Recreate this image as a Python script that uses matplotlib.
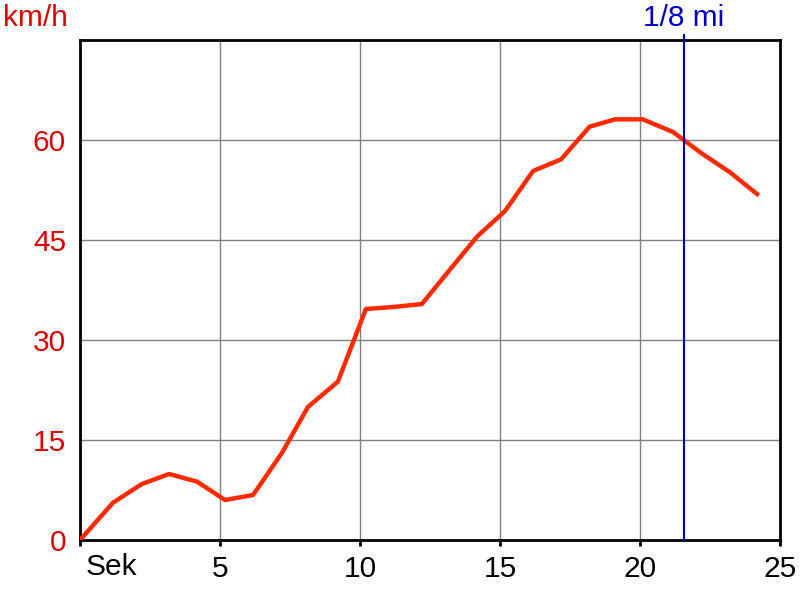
import matplotlib.pyplot as plt

plt.rcParams["font.family"] = ["Liberation Sans", "DejaVu Sans"]

# speed over time
sek = [0, 1.18, 2.21, 3.18, 4.18, 5.18, 6.18, 7.21, 8.14, 9.21, 10.21, 11.18,
       12.21, 13.2, 14.2, 15.18, 16.18, 17.18, 18.2, 19.1, 20.1, 21.18, 22.2,
       23.2, 24.18]
kmh = [0, 5.6, 8.4, 9.9, 8.75, 6.0, 6.75, 13.05, 19.95, 23.75, 34.65, 34.95,
       35.4, 40.5, 45.6, 49.35, 55.35, 57.1, 62.0, 63.1, 63.1, 61.2, 58.0,
       55.2, 51.9]
x_ticks = [0, 5, 10, 15, 20, 25]
y_ticks = [0, 15, 30, 45, 60]
eighth_mile = 21.57

fig = plt.figure(figsize=(8, 6), dpi=100)
ax = fig.add_axes([0.1, 0.1, 0.875, 0.8333])

ax.plot(sek, kmh, color="#ff2a00", lw=3.2, solid_joinstyle="round", zorder=3)
ax.axvline(eighth_mile, ymin=0, ymax=1.01, color="#0000c8", lw=1.5,
           clip_on=False, zorder=4)
ax.text(eighth_mile, 78.3, "1/8 mi", color="#0000c8", fontsize=21.5,
        ha="center", va="center")

ax.set_xlim(0, 25)
ax.set_ylim(0, 75)
ax.set_xticks(x_ticks)
ax.set_xticklabels([""] + [str(t) for t in x_ticks[1:]], fontsize=21.5)
ax.set_yticks(y_ticks)
ax.set_yticklabels([str(t) for t in y_ticks], fontsize=21.5, color="#e00000")
ax.tick_params(axis="x", length=4, width=2, direction="out", pad=7)
ax.tick_params(axis="y", length=0, pad=10)
ax.grid(True, color="#808080", lw=1)
for s in ax.spines.values():
    s.set_linewidth(2)
    s.set_color("black")

ax.text(0.2, -1.9, "Sek", fontsize=21.5, ha="left", va="top")
fig.text(0.004, 0.97, "km/h", fontsize=21.5, color="#e00000", ha="left",
         va="center")

fig.savefig("out.png", dpi=100)
